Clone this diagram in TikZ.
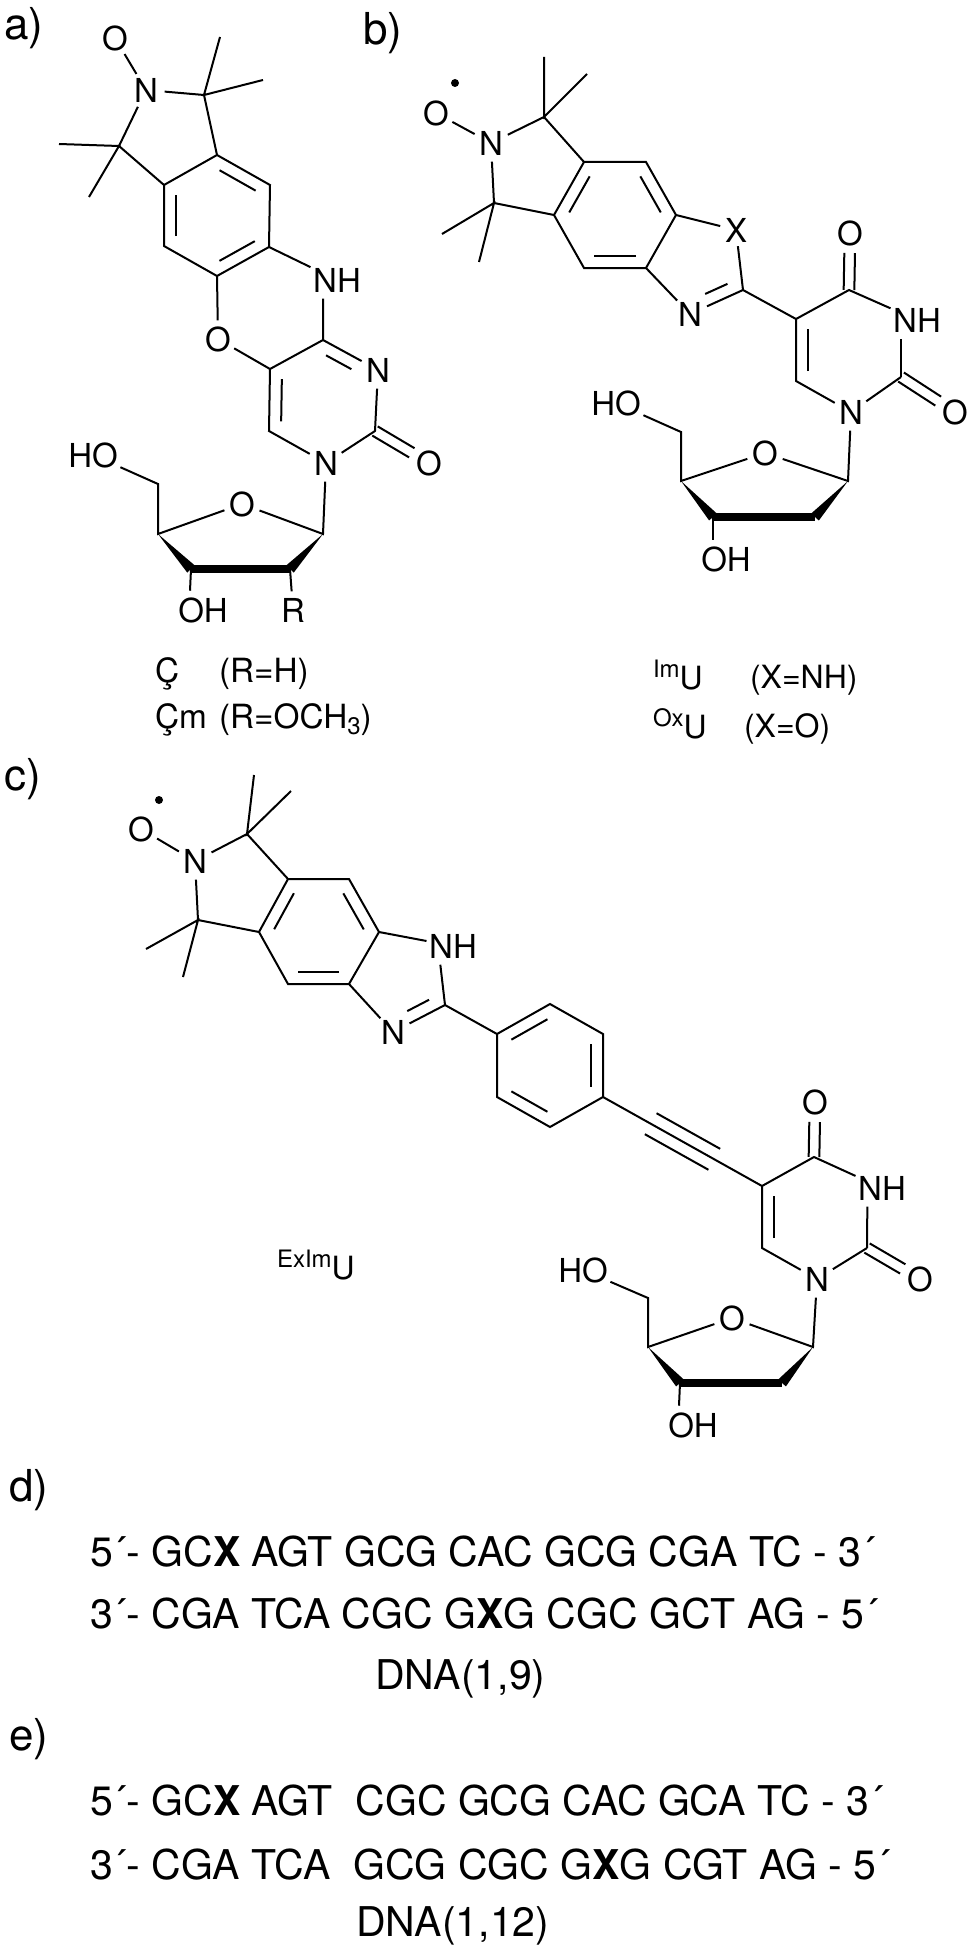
\documentclass[tikz,border=0pt]{standalone}
\usepackage{fontspec}
\setmainfont{TeX Gyre Heros}
\usetikzlibrary{calc}

\newcommand{\dblbond}[4]{\draw[bond] ($($(#1)!#3!(#2)$)!9pt!-90:(#2)$) -- ($($(#2)!#4!(#1)$)!9pt!90:(#1)$);}
\newcommand{\cobond}[2]{\foreach \s in {1,-1} \draw[bond] ($(#1)!\s*4pt!90:(#2)$) -- ($($(#2)!15pt!(#1)$)!\s*4pt!-90:(#1)$);}
\newcommand{\wedgebond}[2]{\fill (#1) -- ($(#2)!3.9pt!90:(#1)$) -- ($(#2)!3.9pt!-90:(#1)$) -- cycle;}
\newcommand{\smalltext}[2]{\raisebox{#1}{\fontsize{18pt}{18pt}\selectfont #2}}

\tikzset{
  bond/.style={line width=1.5pt},
  boldbond/.style={line width=5.4pt},
  atom/.style={circle, inner sep=0pt, minimum size=28pt, font=\fontsize{24.75pt}{26pt}\selectfont},
  group/.style={rectangle, inner xsep=2pt, inner ysep=5pt, font=\fontsize{24.75pt}{26pt}\selectfont},
  radical/.style={circle, fill=black, inner sep=0pt, minimum size=6pt},
  tag/.style={anchor=base west, inner sep=0pt, font=\fontsize{33pt}{35pt}\selectfont},
  caption/.style={anchor=base west, inner sep=0pt, font=\fontsize{24pt}{26pt}\selectfont},
  capbig/.style={caption, font=\fontsize{25pt}{27pt}\selectfont},
  strand/.style={anchor=base west, inner sep=0pt, font=\fontsize{30.75pt}{33pt}\selectfont}
}

\begin{document}
\begin{tikzpicture}[x=0.75pt, y=-0.75pt, every node/.style={outer sep=0pt}]
\useasboundingbox (0,0) rectangle (970,1955);

\node[tag] (taga) at (4,40) {a)};
\node[tag] (tagb) at (363,45) {b)};
\node[tag] (tagc) at (4,790) {c)};
\node[tag] (tagd) at (9,1501) {d)};
\node[tag] (tage) at (9,1750) {e)};

\node[atom] (aO) at (115,38) {O};
\node[atom] (aN) at (146,90) {N};
\coordinate (aC1) at (204,95);
\coordinate (aMe1) at (220,37);
\coordinate (aMe2) at (263,80);
\coordinate (aC3) at (119,146);
\coordinate (aMe3) at (59,144);
\coordinate (aMe4) at (89,197);
\coordinate (aR1) at (217,155);
\coordinate (aR2) at (270,185);
\coordinate (aR3) at (269,247);
\coordinate (aR4) at (217,276);
\coordinate (aR5) at (164,246);
\coordinate (aR6) at (164,185);
\node[group] (aNH) at (337,280) {NH};
\node[atom] (aO2) at (218,339) {O};
\coordinate (aP1) at (323,340);
\coordinate (aP2) at (270,369);
\node[atom] (aN3) at (378,370) {N};
\coordinate (aC2) at (375,431);
\node[atom] (aO3) at (429,463) {O};
\node[atom] (aN1) at (326,463) {N};
\coordinate (aP3) at (269,431);
\coordinate (aS1) at (323,534);
\node[atom] (aSO) at (242,504) {O};
\coordinate (aS4) at (158,534);
\coordinate (aS3) at (191,569);
\coordinate (aS2) at (290,569);
\coordinate (aS5) at (158,484);
\node[group] (aHO) at (93,455) {HO};
\node[group] (aOH) at (203,610) {OH};
\node[atom] (aX) at (293,610) {R};

\draw[bond] (aO) -- (aN) -- (aC1) -- (aR1) -- (aR2) -- (aR3) -- (aR4) -- (aR5) -- (aR6) -- (aR1);
\draw[bond] (aN) -- (aC3) -- (aR6);
\draw[bond] (aMe1) -- (aC1) -- (aMe2);
\draw[bond] (aMe3) -- (aC3) -- (aMe4);
\draw[bond] (aR3) -- (aNH);
\draw[bond] (aR4) -- (aO2) -- (aP2) -- (aP1) -- ([xshift=-10.5pt]aNH.south);
\draw[bond] (aP1) -- (aN3) -- (aC2) -- (aN1) -- (aP3) -- (aP2);
\draw[bond] (aN1) -- (aS1) -- (aSO) -- (aS4) -- (aS5) -- (aHO);
\draw[bond] (aS3) -- ([xshift=-9.75pt]aOH.north);
\draw[bond] (aS2) -- (aX);
\dblbond{aR1}{aR2}{.16}{.16}
\dblbond{aR3}{aR4}{.16}{.16}
\dblbond{aR5}{aR6}{.16}{.16}
\dblbond{aP1}{aN3}{.16}{.38}
\dblbond{aP3}{aP2}{.16}{.16}
\cobond{aC2}{aO3}
\wedgebond{aS4}{aS3}
\wedgebond{aS1}{aS2}
\draw[boldbond] (aS3) -- (aS2);

\node[capbig] (capa1) at (155,682) {Ç};
\node[capbig] (capa2) at (219,682) {(R=H)};
\node[capbig] (capa3) at (155,728) {Çm};
\node[capbig] (capa4) at (219,728) {(R=OCH\smalltext{-5pt}{3})};

\node[atom] (bO) at (436,113) {O};
\node[radical] (bdot) at (455,83) {};
\node[atom] (bN) at (491,143) {N};
\coordinate (bC1) at (544,117);
\coordinate (bMe1) at (544,57);
\coordinate (bMe2) at (587,74);
\coordinate (bC3) at (494,203);
\coordinate (bMe3) at (442,234);
\coordinate (bMe4) at (479,262);
\coordinate (bR1) at (584,162);
\coordinate (bR2) at (646,162);
\coordinate (bR3) at (676,215);
\coordinate (bR4) at (646,268);
\coordinate (bR5) at (584,268);
\coordinate (bR6) at (554,215);
\node[atom, minimum size=24pt] (bX) at (736,230) {X};
\coordinate (bC2i) at (743,290);
\node[atom] (bNi) at (690,314) {N};
\coordinate (bP5) at (796,319);
\coordinate (bP4) at (849,290);
\node[atom] (bO4) at (850,233) {O};
\node[group] (bNH) at (917,320) {NH};
\coordinate (bP2) at (901,377);
\node[atom] (bO2) at (955,412) {O};
\node[atom] (bN1) at (851,412) {N};
\coordinate (bP6) at (796,381);
\coordinate (bS1) at (848,481);
\node[atom] (bSO) at (765,453) {O};
\coordinate (bS4) at (681,481);
\coordinate (bS3) at (713,517);
\coordinate (bS2) at (815,517);
\coordinate (bS5) at (681,432);
\node[group] (bHO) at (616,403) {HO};
\node[group] (bOH) at (726,559) {OH};

\draw[bond] (bO) -- (bN) -- (bC1) -- (bR1) -- (bR2) -- (bR3) -- (bR4) -- (bR5) -- (bR6) -- (bR1);
\draw[bond] (bN) -- (bC3) -- (bR6);
\draw[bond] (bMe1) -- (bC1) -- (bMe2);
\draw[bond] (bMe3) -- (bC3) -- (bMe4);
\draw[bond] (bR3) -- (bX) -- (bC2i) -- (bNi) -- (bR4);
\draw[bond] (bC2i) -- (bP5) -- (bP4) -- (bNH);
\draw[bond] (bP2) -- ([xshift=-12pt]bNH.south);
\draw[bond] (bP2) -- (bN1) -- (bP6) -- (bP5);
\draw[bond] (bN1) -- (bS1) -- (bSO) -- (bS4) -- (bS5) -- (bHO);
\draw[bond] (bS3) -- ([xshift=-9.75pt]bOH.north);
\dblbond{bR6}{bR1}{.16}{.16}
\dblbond{bR2}{bR3}{.16}{.16}
\dblbond{bR4}{bR5}{.16}{.16}
\dblbond{bC2i}{bNi}{.2}{.38}
\dblbond{bP6}{bP5}{.16}{.16}
\cobond{bP4}{bO4}
\cobond{bP2}{bO2}
\wedgebond{bS4}{bS3}
\wedgebond{bS1}{bS2}
\draw[boldbond] (bS3) -- (bS2);

\node[caption] (capb1) at (653,689) {\smalltext{9pt}{Im}U};
\node[caption] (capb2) at (750,688) {(X=NH)};
\node[caption] (capb3) at (653,738) {\smalltext{9pt}{Ox}U};
\node[caption] (capb4) at (744,737) {(X=O)};

\node[atom] (cO) at (141,829) {O};
\node[radical] (cdot) at (159,800) {};
\node[atom] (cN) at (195,861) {N};
\coordinate (cC1) at (247,834);
\coordinate (cMe1) at (254,775);
\coordinate (cMe2) at (291,791);
\coordinate (cC3) at (198,920);
\coordinate (cMe3) at (146,949);
\coordinate (cMe4) at (183,977);
\coordinate (cR1) at (288,879);
\coordinate (cR2) at (349,879);
\coordinate (cR3) at (379,932);
\coordinate (cR4) at (349,984);
\coordinate (cR5) at (288,984);
\coordinate (cR6) at (259,932);
\node[group] (cNHi) at (453,946) {NH};
\coordinate (cC2i) at (445,1005);
\node[atom] (cNi) at (393,1032) {N};
\coordinate (cF1) at (497,1034);
\coordinate (cF2) at (550,1004);
\coordinate (cF3) at (603,1034);
\coordinate (cF4) at (603,1097);
\coordinate (cF5) at (550,1127);
\coordinate (cF6) at (497,1097);
\coordinate (cP5) at (762,1186);
\coordinate (cP4) at (814,1157);
\node[atom] (cO4) at (815,1102) {O};
\node[group] (cNH) at (882,1188) {NH};
\coordinate (cP2) at (867,1248);
\node[atom] (cO2) at (920,1279) {O};
\node[atom] (cN1) at (817,1279) {N};
\coordinate (cP6) at (762,1248);
\coordinate (cS1) at (813,1347);
\node[atom] (cSO) at (732,1318) {O};
\coordinate (cS4) at (648,1347);
\coordinate (cS3) at (680,1383);
\coordinate (cS2) at (782,1383);
\coordinate (cS5) at (648,1298);
\node[group] (cHO) at (583,1270) {HO};
\node[group] (cOH) at (693,1425) {OH};

\draw[bond] (cO) -- (cN) -- (cC1) -- (cR1) -- (cR2) -- (cR3) -- (cR4) -- (cR5) -- (cR6) -- (cR1);
\draw[bond] (cN) -- (cC3) -- (cR6);
\draw[bond] (cMe1) -- (cC1) -- (cMe2);
\draw[bond] (cMe3) -- (cC3) -- (cMe4);
\draw[bond] (cR3) -- (cNHi);
\draw[bond] (cC2i) -- ([xshift=-9.5pt]cNHi.south);
\draw[bond] (cC2i) -- (cNi) -- (cR4);
\draw[bond] (cC2i) -- (cF1) -- (cF2) -- (cF3) -- (cF4) -- (cF5) -- (cF6) -- (cF1);
\draw[bond] (cF4) -- (cP5) -- (cP4) -- (cNH);
\draw[bond] (cP2) -- ([xshift=-11pt]cNH.south);
\draw[bond] (cP2) -- (cN1) -- (cP6) -- (cP5);
\draw[bond] (cN1) -- (cS1) -- (cSO) -- (cS4) -- (cS5) -- (cHO);
\draw[bond] (cS3) -- ([xshift=-10.5pt]cOH.north);
\dblbond{cR6}{cR1}{.16}{.16}
\dblbond{cR2}{cR3}{.16}{.16}
\dblbond{cR4}{cR5}{.16}{.16}
\dblbond{cC2i}{cNi}{.2}{.38}
\dblbond{cF1}{cF2}{.16}{.16}
\dblbond{cF3}{cF4}{.16}{.16}
\dblbond{cF5}{cF6}{.16}{.16}
\dblbond{cP6}{cP5}{.16}{.16}
\draw[bond] ($($(cF4)!.3!(cP5)$)!9pt!90:(cP5)$) -- ($($(cF4)!.7!(cP5)$)!9pt!90:(cP5)$);
\draw[bond] ($($(cF4)!.3!(cP5)$)!9pt!-90:(cP5)$) -- ($($(cF4)!.7!(cP5)$)!9pt!-90:(cP5)$);
\cobond{cP4}{cO4}
\cobond{cP2}{cO2}
\wedgebond{cS4}{cS3}
\wedgebond{cS1}{cS2}
\draw[boldbond] (cS3) -- (cS2);

\node[caption] (capc) at (277,1279) {\smalltext{9pt}{ExIm}U};

\node[strand] (d1) at (90,1566) {5´- GC\textbf{X} AGT GCG CAC GCG CGA TC - 3´};
\node[strand] (d2) at (90,1628) {3´- CGA TCA CGC G\textbf{X}G CGC GCT AG - 5´};
\node[strand] (dname) at (375,1689) {DNA(1,9)};

\node[strand] (e1) at (90,1815) {5´- GC\textbf{X} AGT\ \ CGC GCG CAC GCA TC - 3´};
\node[strand] (e2) at (90,1879) {3´- CGA TCA\ \ GCG CGC G\textbf{X}G CGT AG - 5´};
\node[strand] (ename) at (356,1936) {DNA(1,12)};
\end{tikzpicture}
\end{document}
